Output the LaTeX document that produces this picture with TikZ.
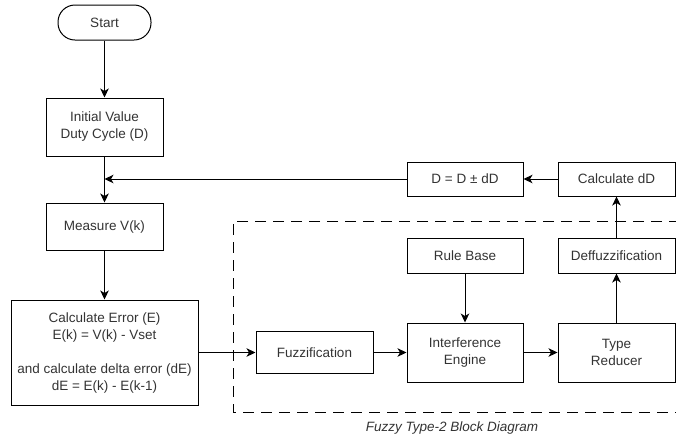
\documentclass[tikz,border=0pt]{standalone}
\usepackage{fontspec}
\setmainfont{Liberation Sans}
\usetikzlibrary{arrows.meta}
\definecolor{txt}{HTML}{333333}
\begin{document}
\begin{tikzpicture}[x=1pt,y=-1pt,
  box/.style={draw=black,line width=1pt,rectangle,align=center,text=txt,
    font=\fontsize{13.5}{17}\selectfont,inner sep=0pt},
  arr/.style={draw=black,line width=1pt,-{Stealth[length=9pt,width=8.5pt,inset=2.5pt]}}]
\useasboundingbox (0,0) rectangle (676,440);
\node[box,rounded corners=17pt,minimum width=93pt,minimum height=35pt] (start) at (104.5,22.5) {Start};
\node[box,minimum width=117pt,minimum height=58pt] (init) at (104.5,127) {Initial Value\\Duty Cycle (D)};
\node[box,minimum width=117pt,minimum height=47pt] (meas) at (104.5,226.5) {Measure V(k)};
\node[box,minimum width=187pt,minimum height=105pt] (err) at (104.5,352.5) {Calculate Error (E)\\E(k) = V(k) - Vset\\[17pt]and calculate delta error (dE)\\dE = E(k) - E(k-1)};
\node[box,minimum width=117pt,minimum height=42pt] (fuzz) at (314.5,352.5) {Fuzzification};
\node[box,minimum width=116pt,minimum height=59pt] (ie) at (465,352.5) {Interference\\Engine};
\node[box,minimum width=117pt,minimum height=59pt] (tr) at (616.5,352.5) {Type\\Reducer};
\node[box,minimum width=116pt,minimum height=35pt] (rb) at (465,255.5) {Rule Base};
\node[box,minimum width=117pt,minimum height=35pt] (def) at (616.5,255.5) {Deffuzzification};
\node[box,minimum width=117pt,minimum height=34pt] (cdd) at (616.5,179) {Calculate dD};
\node[box,minimum width=116pt,minimum height=34pt] (dd) at (465,179) {D = D ± dD};
\coordinate (join) at (104.5,179);
\draw[black,line width=1pt,dash pattern=on 11pt off 7pt] (680,221) -- (233,221) -- (233,412) -- (680,412);
\node[text=txt,font=\fontsize{13.5}{16}\itshape] (cap) at (452,428) {Fuzzy Type-2 Block Diagram};
\draw[arr] (start) -- (init);
\draw[arr] (init) -- (meas);
\draw[arr] (meas) -- (err);
\draw[arr] (err) -- (fuzz);
\draw[arr] (fuzz) -- (ie);
\draw[arr] (ie) -- (tr);
\draw[arr] (rb) -- (ie);
\draw[arr] (tr) -- (def);
\draw[arr] (def) -- (cdd);
\draw[arr] (cdd) -- (dd);
\draw[arr] (dd.west) -- (join);
\end{tikzpicture}
\end{document}
